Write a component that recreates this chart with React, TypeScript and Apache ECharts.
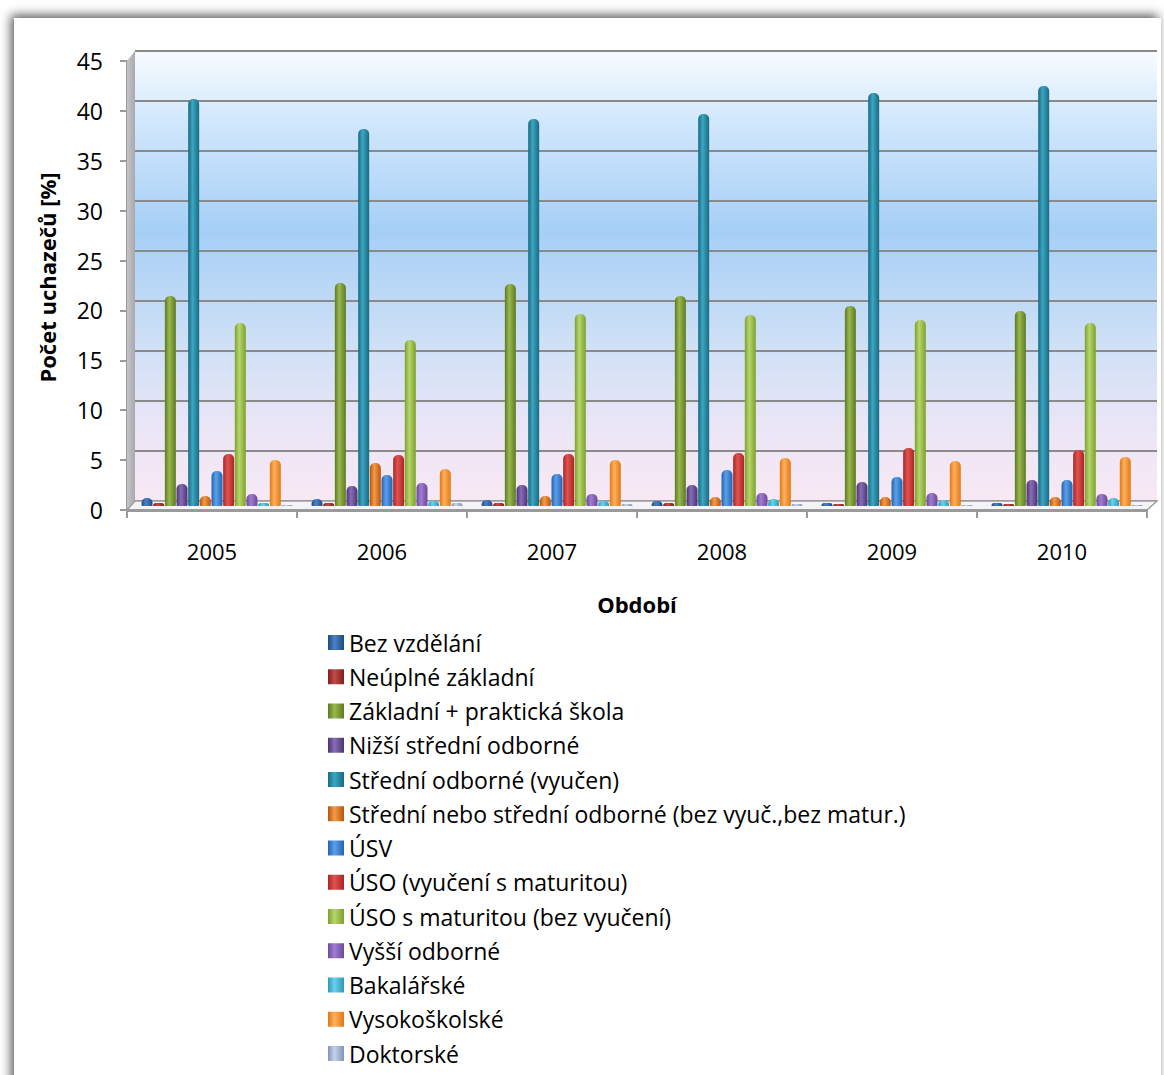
import React, { useEffect, useRef } from "react";
import * as echarts from "echarts";

const years = ["2005", "2006", "2007", "2008", "2009", "2010"];
const yTicks = [0, 5, 10, 15, 20, 25, 30, 35, 40, 45];

const seriesNames = [
  "Bez vzdělání",
  "Neúplné základní",
  "Základní + praktická škola",
  "Nižší střední odborné",
  "Střední odborné (vyučen)",
  "Střední nebo střední odborné (bez vyuč.,bez matur.)",
  "ÚSV",
  "ÚSO (vyučení s maturitou)",
  "ÚSO s maturitou (bez vyučení)",
  "Vyšší odborné",
  "Bakalářské",
  "Vysokoškolské",
  "Doktorské",
];

const bezVzdelani = [0.8, 0.7, 0.6, 0.5, 0.3, 0.3];
const neuplneZakladni = [0.3, 0.3, 0.3, 0.3, 0.2, 0.2];
const zakladni = [21.0, 22.3, 22.2, 21.0, 20.0, 19.5];
const nizsiStredni = [2.2, 2.0, 2.1, 2.1, 2.4, 2.6];
const stredniVyucen = [40.7, 37.7, 38.7, 39.2, 41.3, 42.0];
const stredniBez = [1.0, 4.3, 1.0, 0.9, 0.9, 0.9];
const usv = [3.5, 3.1, 3.2, 3.6, 2.9, 2.6];
const usoVyuceni = [5.2, 5.1, 5.2, 5.3, 5.8, 5.6];
const usoMaturita = [18.3, 16.6, 19.2, 19.1, 18.6, 18.3];
const vyssiOdborne = [1.2, 2.3, 1.2, 1.3, 1.3, 1.2];
const bakalarske = [0.3, 0.5, 0.5, 0.7, 0.6, 0.8];
const vysokoskolske = [4.6, 3.7, 4.6, 4.8, 4.5, 4.9];
const doktorske = [0.1, 0.3, 0.2, 0.2, 0.1, 0.1];

const seriesData = [
  bezVzdelani,
  neuplneZakladni,
  zakladni,
  nizsiStredni,
  stredniVyucen,
  stredniBez,
  usv,
  usoVyuceni,
  usoMaturita,
  vyssiOdborne,
  bakalarske,
  vysokoskolske,
  doktorske,
];

// [dark edge, highlight]
const palette: [string, string][] = [
  ["#1c4a80", "#4c82c6"],
  ["#7e1f1d", "#c34a47"],
  ["#5c7a22", "#9ab84e"],
  ["#4a3570", "#8a6cb8"],
  ["#1a6a80", "#3aa6c2"],
  ["#b8560a", "#f59a4a"],
  ["#2462b0", "#5aa0ea"],
  ["#a82626", "#e0524e"],
  ["#7da02e", "#b6d66a"],
  ["#6a4a98", "#a27cd2"],
  ["#2a9ab8", "#6cd0ea"],
  ["#e07812", "#ffb060"],
  ["#8294b6", "#c4d2ea"],
];

const FONT = "'Open Sans', Lato, sans-serif";

function cyl(c: [string, string]) {
  return new echarts.graphic.LinearGradient(0, 0, 1, 0, [
    { offset: 0, color: c[0] },
    { offset: 0.4, color: c[1] },
    { offset: 1, color: c[0] },
  ]);
}

export default function App() {
  const ref = useRef<HTMLDivElement>(null);

  useEffect(() => {
    document.body.style.margin = "0";
    if (!ref.current) return;
    const chart = echarts.init(ref.current, null, { renderer: "svg" });

    const series = seriesNames.map((name, i) => ({
      name,
      type: "bar",
      xAxisIndex: 0,
      yAxisIndex: 0,
      data: seriesData[i],
      barWidth: 11,
      barGap: "6%",
      z: 3,
      itemStyle: {
        color: cyl(palette[i]),
        borderRadius: [5, 5, 1, 1],
      },
    }));

    chart.setOption({
      animation: false,
      textStyle: { fontFamily: FONT },
      grid: [
        { left: 132, top: 56, width: 1020, height: 450, containLabel: false },
        { left: 127, top: 61, width: 1020, height: 449, containLabel: false },
        {
          left: 135,
          top: 51,
          width: 1022,
          height: 450,
          show: true,
          borderWidth: 0,
          backgroundColor: new echarts.graphic.LinearGradient(0, 0, 0, 1, [
            { offset: 0, color: "#f8fcff" },
            { offset: 0.15, color: "#d2e8fc" },
            { offset: 0.4, color: "#a6cff6" },
            { offset: 0.65, color: "#cfe0f6" },
            { offset: 0.85, color: "#ece6f6" },
            { offset: 1, color: "#f8e8f4" },
          ]),
        },
      ],
      xAxis: [
        {
          gridIndex: 0,
          type: "category",
          data: years,
          show: false,
        },
        {
          gridIndex: 1,
          type: "category",
          data: years,
          axisLine: { show: true, lineStyle: { color: "#9a9a9a", width: 2 } },
          axisTick: { show: true, length: 8, lineStyle: { color: "#9a9a9a", width: 2 } },
          axisLabel: { color: "#000", fontSize: 22, margin: 30, fontFamily: FONT },
          name: "Období",
          nameLocation: "middle",
          nameGap: 83,
          nameTextStyle: { color: "#000", fontSize: 22, fontWeight: "bold", fontFamily: FONT },
          z: 1,
        },
        {
          gridIndex: 2,
          type: "category",
          data: years,
          show: false,
        },
      ],
      yAxis: [
        { gridIndex: 0, type: "value", min: 0, max: 45, interval: 5, show: false },
        {
          gridIndex: 1,
          type: "value",
          min: 0,
          max: 45,
          interval: 5,
          data: yTicks,
          splitLine: { show: false },
          axisLine: { show: true, lineStyle: { color: "#9a9a9a", width: 2 } },
          axisTick: { show: true, length: 7, lineStyle: { color: "#9a9a9a", width: 2 } },
          axisLabel: { color: "#000", fontSize: 23, margin: 24, fontFamily: FONT },
          name: "Počet uchazečů [%]",
          nameLocation: "middle",
          nameGap: 69,
          nameTextStyle: {
            color: "#000",
            fontSize: 22,
            fontWeight: "bold",
            fontFamily: FONT,
            padding: [0, 0, 0, 16],
          },
        },
        {
          gridIndex: 2,
          type: "value",
          min: 0,
          max: 45,
          interval: 5,
          axisLine: { show: false },
          axisTick: { show: false },
          axisLabel: { show: false },
          splitLine: { show: true, lineStyle: { color: "#8a8a8a", width: 2 } },
        },
      ],
      legend: {
        orient: "vertical",
        left: 323,
        top: 626,
        itemWidth: 16,
        itemHeight: 15,
        itemGap: 11.25,
        icon: "rect",
        data: seriesNames,
        textStyle: { color: "#000", fontSize: 23, lineHeight: 23, fontFamily: FONT },
      },
      graphic: [
        {
          type: "polygon",
          z: 1,
          silent: true,
          shape: { points: [[127, 61], [135, 51], [135, 501], [127, 510]] },
          style: {
            fill: new echarts.graphic.LinearGradient(0, 0, 1, 0, [
              { offset: 0, color: "#c4c4c8" },
              { offset: 1, color: "#a8a8ae" },
            ]),
          },
        },
        {
          type: "polygon",
          z: 1,
          silent: true,
          shape: { points: [[127, 510], [135, 501], [1157, 501], [1147, 510]] },
          style: { fill: "#f4f3f8", stroke: "#a0a0a0", lineWidth: 1.5 },
        },
        {
          type: "line",
          z: 1,
          silent: true,
          shape: { x1: 127, y1: 511, x2: 1147, y2: 511 },
          style: { stroke: "#9a9a9a", lineWidth: 2 },
        },
      ],
      series,
    });

    return () => chart.dispose();
  }, []);

  return (
    <div style={{ position: "relative", width: 1164, height: 1075, overflow: "hidden", background: "#fff" }}>
      <div
        style={{
          position: "absolute",
          left: 14,
          top: 18,
          width: 1147,
          height: 1100,
          background: "#fff",
          boxShadow: "-3px -3px 10px rgba(0,0,0,0.65)",
        }}
      />
      <div ref={ref} style={{ position: "absolute", left: 0, top: 0, width: 1164, height: 1075 }} />
    </div>
  );
}
